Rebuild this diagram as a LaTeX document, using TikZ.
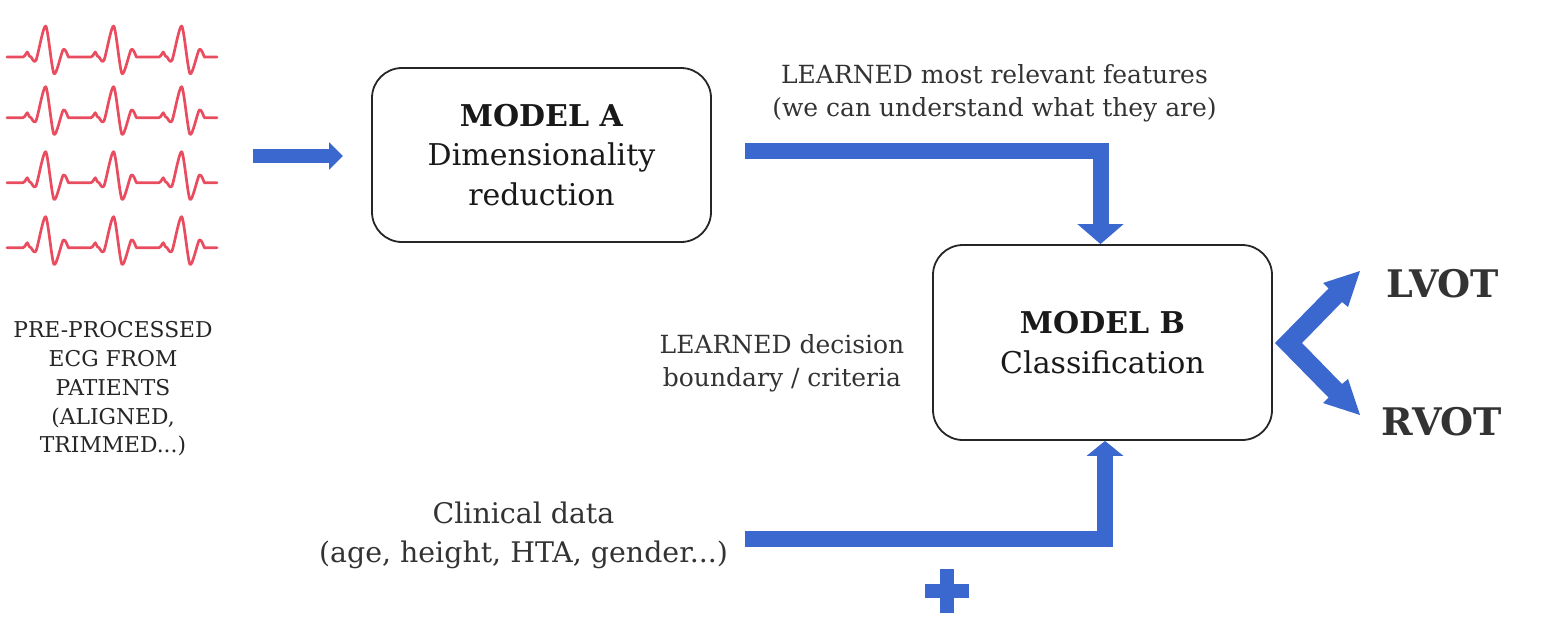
\documentclass[tikz,border=0pt]{standalone}
\usepackage{fontspec}
\setmainfont{DejaVu Serif}
\usetikzlibrary{arrows.meta}
\definecolor{ecgred}{RGB}{232,76,94}
\definecolor{arrblue}{RGB}{58,104,207}
\definecolor{txt}{RGB}{51,51,51}
\begin{document}
\begin{tikzpicture}[x=0.5pt,y=-0.5pt,
  ecg/.style={draw=ecgred,line width=1.35pt,line join=round,line cap=round},
  modelbox/.style={draw=black!85,line width=0.9pt,rounded corners=15pt,align=center,
    font=\fontsize{15}{19.75}\selectfont,text=black!90,minimum width=169.5pt},
  lbl/.style={align=center,text=txt,font=\fontsize{12.5}{16.5}\selectfont},
  outlbl/.style={anchor=base,text=txt,font=\bfseries\fontsize{19}{19}\selectfont},
  blockarrow/.style={draw=arrblue,line width=8pt,line join=miter},
]
\useasboundingbox (0,0) rectangle (1544,638);

% ECG traces
\foreach \yy in {57,117.7,182.7,247.7}{
  \draw[ecg] (7,\yy) \foreach \b in {0,68,136}{ -- ({\b+23},\yy) -- plot[smooth,tension=0.45] coordinates {({\b+25},{\yy-1.5}) ({\b+27.3},{\yy-5}) ({\b+29.3},{\yy-1}) ({\b+31},\yy) ({\b+36},{\yy+3.3}) ({\b+45.7},{\yy-31}) ({\b+54},{\yy+16.7}) ({\b+63.3},{\yy-7.7}) ({\b+68.3},\yy)} } -- (217,\yy);
}

\node[lbl,text=black!85,font=\fontsize{10.9}{14.4}\selectfont] (ecgcap) at (113,389)
  {PRE-PROCESSED\\ECG FROM\\PATIENTS\\(ALIGNED,\\TRIMMED...)};

% input arrow
\coordinate (a0) at (253,156);
\coordinate (a1) at (343,156);
\draw[arrblue,line width=7pt,-{Triangle[width=13.5pt,length=7pt]}] (a0) -- (a1);

% models
\node[modelbox,minimum height=87pt] (A) at (541.5,155)
  {\textbf{MODEL A}\\Dimensionality\\reduction};
\node[modelbox,minimum height=97.5pt] (B) at (1102.5,342.5)
  {\textbf{MODEL B}\\Classification};

% labels
\node[lbl] (feat) at (994.5,93) {LEARNED most relevant features\\(we can understand what they are)};
\node[lbl] (dec) at (782,363) {LEARNED decision\\boundary / criteria};
\node[lbl,font=\fontsize{14.2}{19.5}\selectfont] (clin) at (523.5,535)
  {Clinical data\\(age, height, HTA, gender...)};

% connectors
\coordinate (f0) at (745,151);
\draw[blockarrow,-{Triangle[width=22.5pt,length=10pt]}] (f0) -| ([xshift=-1pt]B.north);
\coordinate (c0) at (745,539);
\draw[blockarrow,-{Triangle[width=18pt,length=7.5pt]}] (c0) -| ([xshift=1.25pt]B.south);

% plus
\fill[arrblue] (925,584) rectangle (969,598);
\fill[arrblue] (940,569) rectangle (954,613);

% output chevron
\fill[arrblue] (1275,343) -- (1328.5,288.5) -- (1323,283) -- (1360,271) -- (1348,307)
  -- (1342,302) -- (1302,343) -- (1342,384) -- (1348,379) -- (1360,415) -- (1323,403)
  -- (1328.5,397.5) -- cycle;

\node[outlbl] (lvot) at (1443,297) {LVOT};
\node[outlbl] (rvot) at (1442,435) {RVOT};
\end{tikzpicture}
\end{document}
